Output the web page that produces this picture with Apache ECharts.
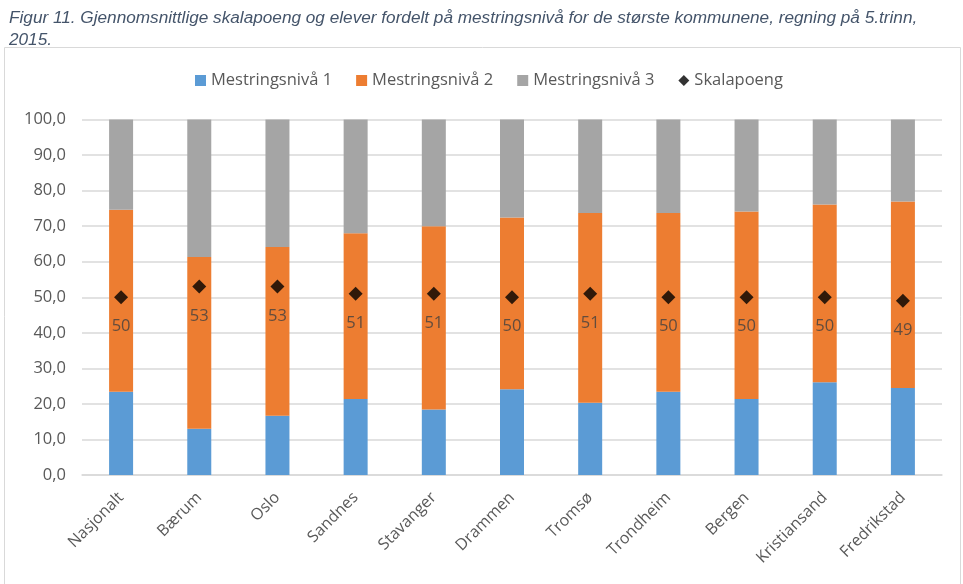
<!DOCTYPE html>
<html><head><meta charset="utf-8">
<script src="https://cdn.jsdelivr.net/npm/echarts@6/dist/echarts.min.js"></script>
<style>html,body{margin:0;padding:0;background:#fff}#c{width:963px;height:584px}</style>
</head><body><div id="c"></div>
<script>
var categories = ['Nasjonalt','Bærum','Oslo','Sandnes','Stavanger','Drammen','Tromsø','Trondheim','Bergen','Kristiansand','Fredrikstad'];
var niva1 = [23.4,13.0,16.7,21.4,18.4,24.1,20.3,23.4,21.4,26.1,24.5];
var niva2 = [51.2,48.3,47.4,46.6,51.6,48.3,53.4,50.3,52.7,50.0,52.4];
var niva3 = [25.4,38.7,35.9,32.0,30.0,27.6,26.3,26.3,25.9,23.9,23.1];
var skalapoeng = [50,53,53,51,51,50,51,50,50,50,49];
var yTicks = [0,10,20,30,40,50,60,70,80,90,100];

var chart = echarts.init(document.getElementById('c'));
var txt = '#595959';
var font = "'Open Sans', 'Noto Sans', sans-serif";
chart.setOption({
  animation:false,
  title:{
    text:'Figur 11. Gjennomsnittlige skalapoeng og elever fordelt på mestringsnivå for de største kommunene, regning på 5.trinn,\n2015.',
    left:4, top:2,
    textStyle:{fontFamily:"'Liberation Sans Narrow', 'Liberation Sans', sans-serif", fontStyle:'italic', fontWeight:'normal', fontSize:17.2, color:'#44546A', lineHeight:22}
  },
  graphic:[{type:'rect', shape:{x:4.5,y:47.5,width:956,height:540}, style:{fill:'none', stroke:'#d9d9d9', lineWidth:1}, silent:true}],
  legend:{
    top:67, left:190, itemGap:24, itemWidth:11, itemHeight:11,
    textStyle:{fontFamily:font, fontSize:16.5, color:txt},
    data:[{name:'Mestringsnivå 1', icon:'rect'},{name:'Mestringsnivå 2', icon:'rect'},{name:'Mestringsnivå 3', icon:'rect'},{name:'Skalapoeng', icon:'diamond'}]
  },
  grid:{left:82, right:21, top:119.5, bottom:109},
  xAxis:{
    type:'category', data:categories,
    axisLine:{lineStyle:{color:'#d9d9d9', width:1.5}}, axisTick:{show:false},
    axisLabel:{rotate:45, fontFamily:font, fontSize:16, color:txt, margin:20, interval:0}
  },
  yAxis:{
    type:'value', min:yTicks[0], max:yTicks[yTicks.length-1], interval:10,
    axisLine:{show:false}, axisTick:{show:false},
    splitLine:{lineStyle:{color:'#d9d9d9', width:1.5}},
    axisLabel:{fontFamily:font, fontSize:16.5, color:txt, margin:16, formatter:function(v){return v.toFixed(1).replace('.',',');}}
  },
  series:[
    {name:'Mestringsnivå 1', type:'bar', stack:'s', data:niva1, barWidth:24, itemStyle:{color:'#5B9BD5'}},
    {name:'Mestringsnivå 2', type:'bar', stack:'s', data:niva2, barWidth:24, itemStyle:{color:'#ED7D31'}},
    {name:'Mestringsnivå 3', type:'bar', stack:'s', data:niva3, barWidth:24, itemStyle:{color:'#A5A5A5'}},
    {name:'Skalapoeng', type:'scatter', data:skalapoeng, symbol:'diamond', symbolSize:14, itemStyle:{color:'#000'}, z:5,
     label:{show:true, position:'bottom', distance:14, fontFamily:font, fontSize:16.5, color:'#404040'}}
  ]
});
</script></body></html>
